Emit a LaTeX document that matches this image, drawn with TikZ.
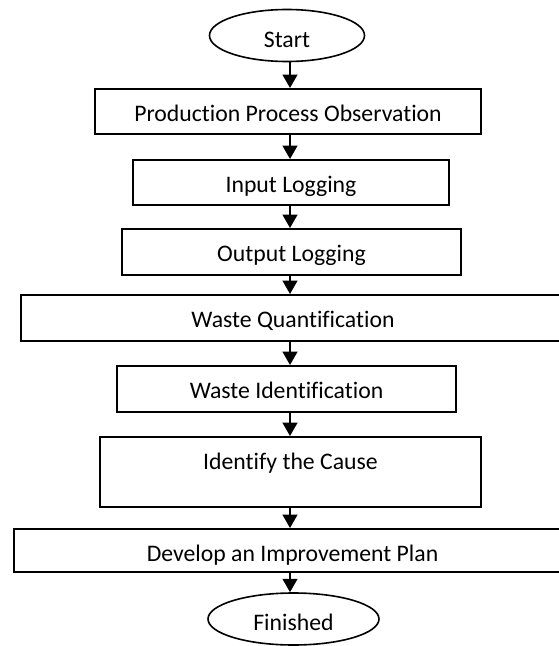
\documentclass[tikz,border=0pt]{standalone}
\usepackage{fontspec}
\setmainfont{Carlito}[Ligatures=NoCommon]
\usetikzlibrary{arrows.meta,shapes.geometric}

\begin{document}
\begin{tikzpicture}[
    x=0.75pt, y=-0.75pt,
    stage/.style={draw, line width=1.2pt, inner xsep=0pt, inner ysep=0pt, text height=24.75pt, font=\fontsize{17.8}{21}\selectfont},
    terminal/.style={draw, ellipse, line width=1.2pt, inner sep=0pt, minimum height=39pt, text height=17.5pt, text depth=0pt, font=\fontsize{17.8}{21}\selectfont},
    flow/.style={-{Triangle[width=11pt, length=10pt]}, line width=1.6pt}
]
\useasboundingbox (0,0) rectangle (559,646);
\clip (0,0) rectangle (559,646);
\coordinate (axis) at (290,0);
\node[terminal, minimum width=116.25pt] (start) at (287,35.5) {Start};
\node[stage, anchor=north, minimum width=289.5pt, text depth=9pt] (observe) at (288,88) {Production Process Observation};
\node[stage, anchor=north, minimum width=237pt, text depth=9pt] (inlog) at (291,159) {Input Logging};
\node[stage, anchor=north, minimum width=254.25pt, text depth=9.75pt] (outlog) at (291.5,228) {Output Logging};
\node[stage, anchor=north, minimum width=408pt, text depth=9.75pt] (quant) at (293,294) {Waste Quantification};
\node[stage, anchor=north, minimum width=254.25pt, text depth=9.75pt] (ident) at (286.5,365) {Waste Identification};
\node[stage, anchor=north, minimum width=285.75pt, text depth=27.75pt] (cause) at (290.5,436) {Identify the Cause};
\node[stage, anchor=north, minimum width=417.75pt, text depth=7.5pt] (plan) at (292.5,528) {Develop an Improvement Plan};
\node[terminal, minimum width=128.25pt] (finish) at (293.5,619) {Finished};
% connectors down the middle
\foreach \a/\b in {start/observe, observe/inlog, inlog/outlog, outlog/quant, quant/ident, ident/cause, cause/plan, plan/finish}
    \draw[flow] (\a.south -| axis) -- (\b.north -| axis);
\end{tikzpicture}
\end{document}
